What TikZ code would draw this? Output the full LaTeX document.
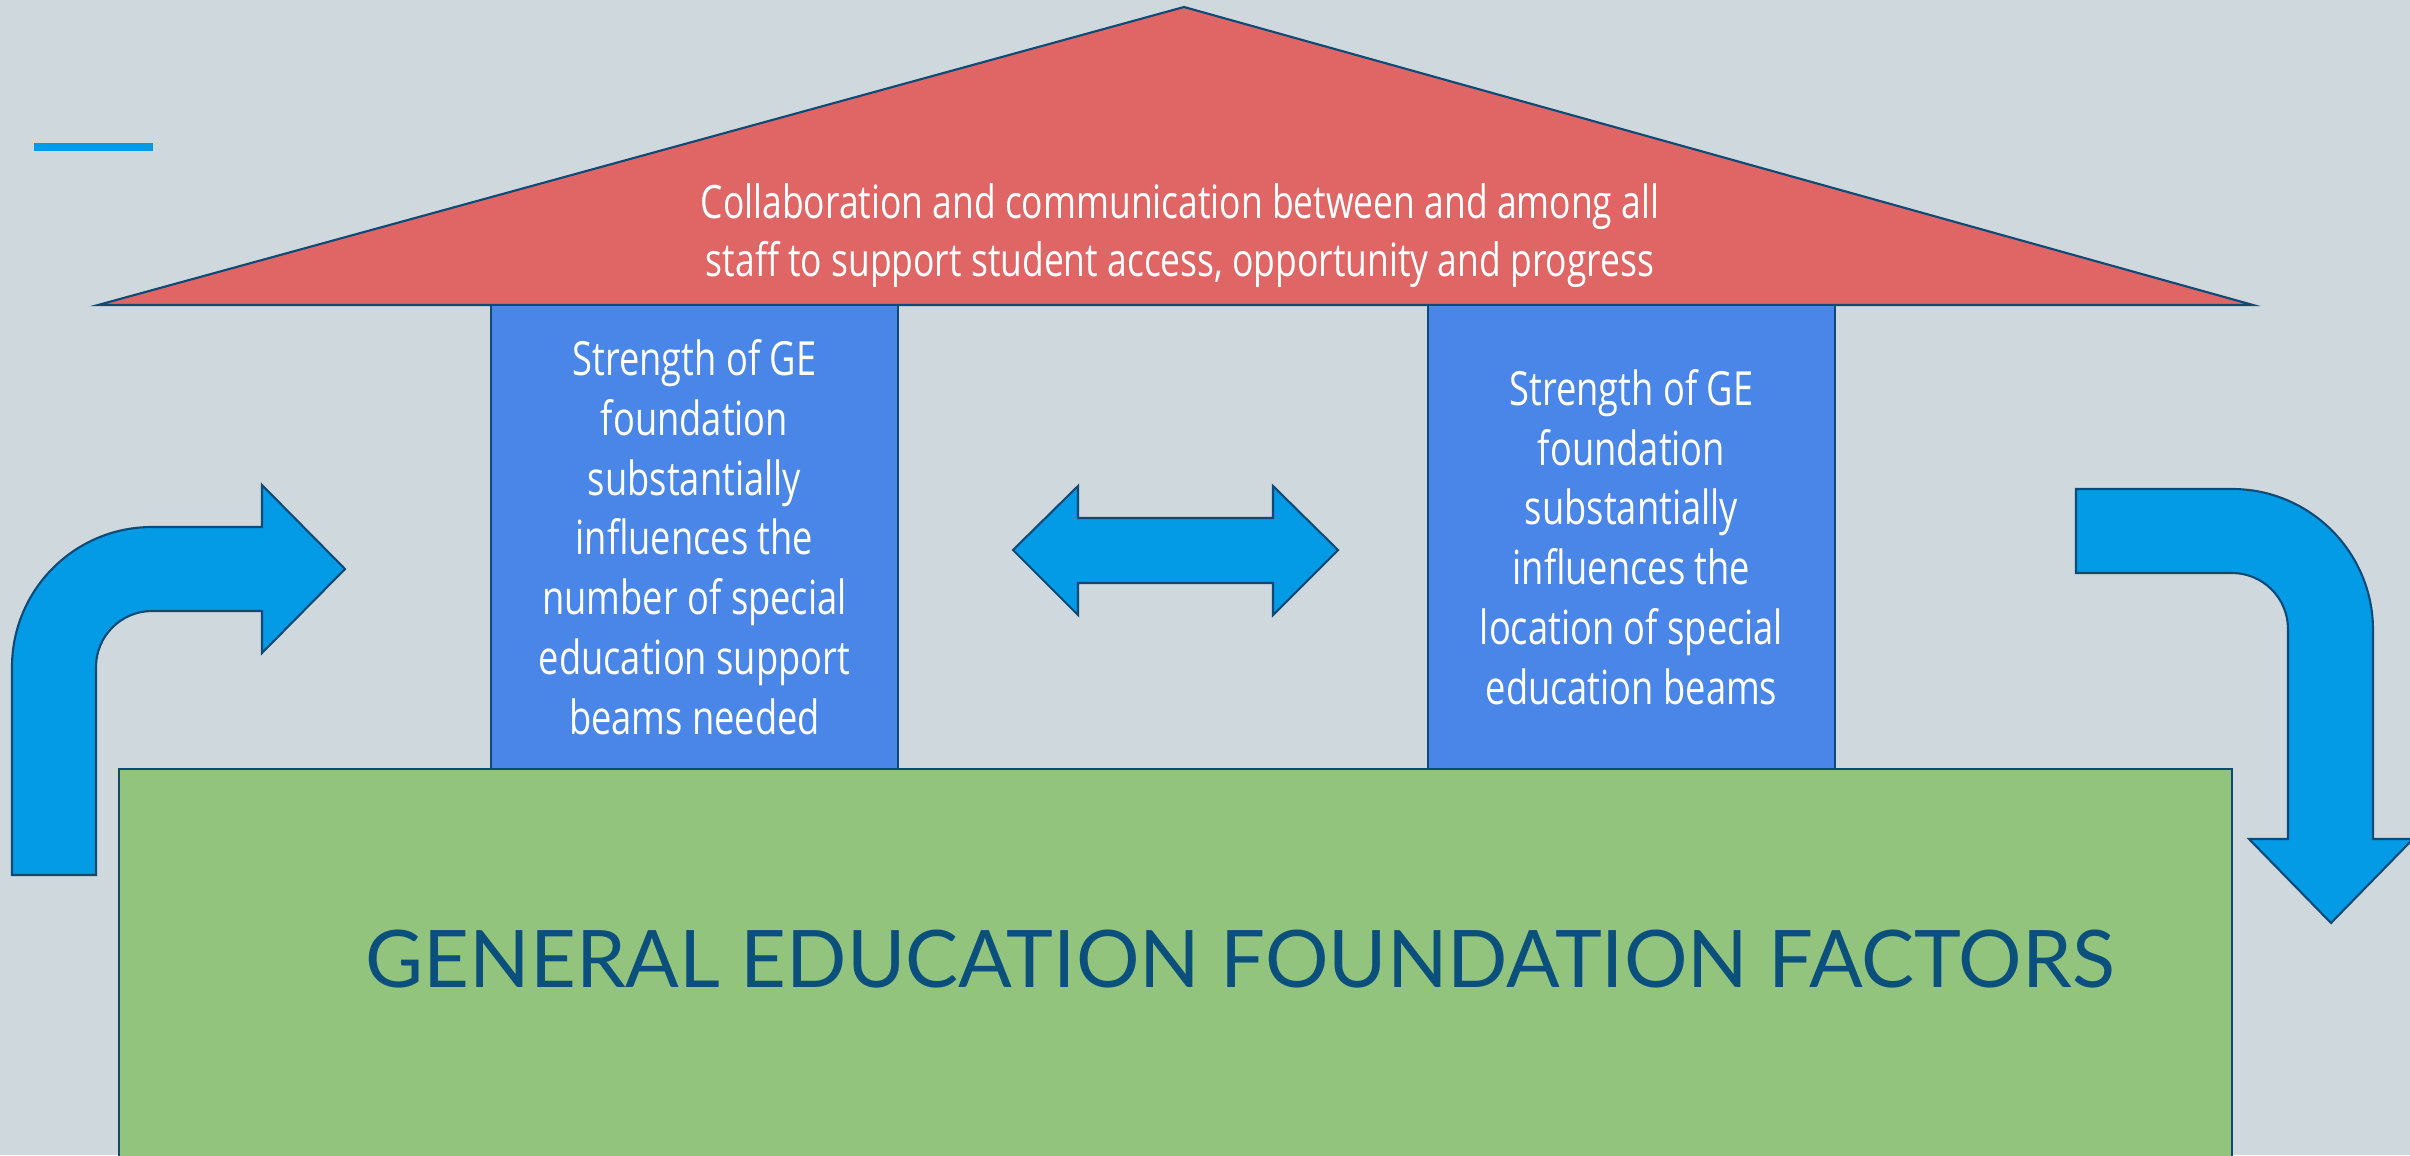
\documentclass[tikz,border=0pt]{standalone}
\usepackage{fontspec}
\setmainfont{Open Sans}[FakeStretch=0.77]
\newfontfamily\latofont{Lato}
\usepackage{tikz}
\usetikzlibrary{calc}

\definecolor{bgcol}{HTML}{CFD8DC}
\definecolor{roofred}{HTML}{E06666}
\definecolor{beamblue}{HTML}{4A86E8}
\definecolor{groundgreen}{HTML}{93C47D}
\definecolor{arrowblue}{HTML}{039BE5}
\definecolor{edgeblue}{HTML}{0D4A78}
\definecolor{titleblue}{HTML}{0B507D}

\begin{document}
\begin{tikzpicture}[x=0.1mm, y=0.1mm,
    outline/.style={draw=edgeblue, line width=0.6pt},
    beam/.style={outline, fill=beamblue, minimum width=40.7mm, minimum height=46.4mm, inner sep=0pt},
    blockarrow/.style={outline, fill=arrowblue, line join=miter},
    whitetext/.style={text=white, align=center, font=\fontsize{13.4}{17}\selectfont}]

    % Background
    \useasboundingbox (0,0) rectangle (2410,1155);
    \fill[bgcol] (0,0) rectangle (2410,1155);

    % Short accent line
    \fill[arrowblue] (34,1004) rectangle (153,1012);

    % Roof
    \draw[outline, fill=roofred] (98,850) -- (1184,1148) -- (2253,850) -- cycle;
    \node[whitetext, font=\fontsize{13.1}{16.5}\selectfont] (roof) at (1180,919)
        {Collaboration and communication between and among all\\staff to support student access, opportunity and progress};

    % Beams
    \node[beam, whitetext] (beamL) at (694.5,618) {Strength of GE\\foundation\\substantially\\influences the\\number of special\\education support\\beams needed};
    \node[beam, whitetext] (beamR) at (1631.5,618) {Strength of GE\\foundation\\substantially\\influences the\\location of special\\education beams};

    % Foundation
    \draw[outline, fill=groundgreen] (119,-20) rectangle (2232,386);
    \node[text=titleblue, font=\latofont\fontsize{22.6}{27}\selectfont] (ground) at (1240,196) {GENERAL EDUCATION FOUNDATION FACTORS};

    % Double arrow between the beams
    \draw[blockarrow] (1013,605) -- (1078,669) -- (1078,637) -- (1273,637) -- (1273,669) -- (1338,605)
        -- (1273,540) -- (1273,572) -- (1078,572) -- (1078,540) -- cycle;

    % Left bent arrow
    \draw[blockarrow] (12,280) -- (12,488) arc[start angle=180, end angle=90, radius=140] -- (262,628) -- (262,670)
        -- (345,586) -- (262,502) -- (262,544) -- (152,544) arc[start angle=90, end angle=180, radius=56] -- (96,280) -- cycle;

    % Right bent arrow
    \draw[blockarrow] (2076,666) -- (2232,666) arc[start angle=90, end angle=0, radius=141] -- (2373,316) -- (2413,316)
        -- (2331,232) -- (2249,316) -- (2288,316) -- (2288,526) arc[start angle=0, end angle=90, radius=56] -- (2076,582) -- cycle;
\end{tikzpicture}
\end{document}
